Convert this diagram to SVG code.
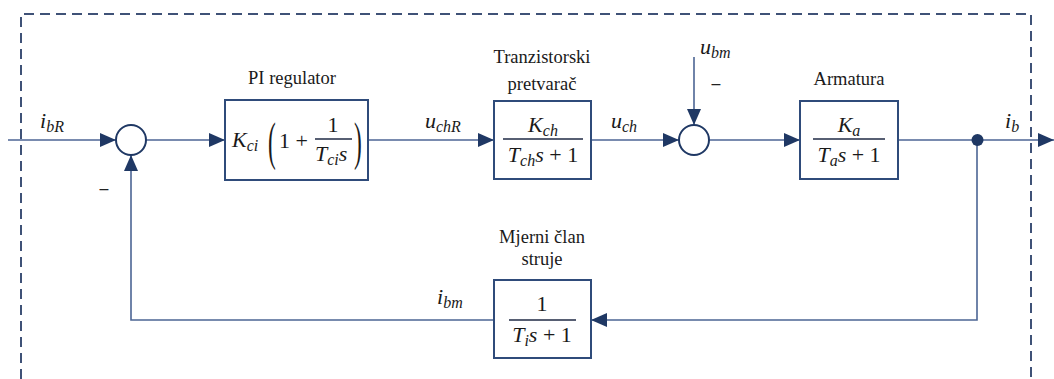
<svg xmlns="http://www.w3.org/2000/svg" width="1054" height="379" viewBox="0 0 1054 379">
<style>
.ln{fill:none;stroke:#4C6594;stroke-width:1.6}
.box{fill:#fff;stroke:#2F4B7A;stroke-width:2}
.sum{fill:#fff;stroke:#1F3864;stroke-width:2}
.frac{stroke:#1F2A44;stroke-width:1.6}
.lbl{font-family:"Liberation Serif",serif;font-size:18.5px;fill:#1a1a1a;text-anchor:middle}
.m{font-family:"Liberation Serif",serif;font-size:22px;fill:#1a1a1a}
.mc{text-anchor:middle}
.it{font-style:italic}
.sub{font-size:16px;font-style:italic}
.minus{font-family:"Liberation Sans",sans-serif;font-size:16px;fill:#222;text-anchor:middle}
.ah{fill:#1F3864}
</style>
<defs>
<marker id="arr" markerWidth="16" markerHeight="14" refX="16" refY="7" orient="auto" markerUnits="userSpaceOnUse">
<path class="ah" d="M0,0 L16,7 L0,14 Z"/>
</marker>
</defs>
<path d="M21,379 V14 H1031 V379" fill="none" stroke="#3F5277" stroke-width="2" stroke-dasharray="10,6"/>
<g id="connectors">
<path class="ln" d="M8,140 H116" marker-end="url(#arr)"/>
<path class="ln" d="M146,140 H225" marker-end="url(#arr)"/>
<path class="ln" d="M368,140 H494" marker-end="url(#arr)"/>
<path class="ln" d="M591,140 H679" marker-end="url(#arr)"/>
<path class="ln" d="M694,57 V125" marker-end="url(#arr)"/>
<path class="ln" d="M709,140 H800" marker-end="url(#arr)"/>
<path class="ln" d="M898,140 H1054" marker-end="url(#arr)"/>
<path class="ln" d="M977,140 V320 H591" marker-end="url(#arr)"/>
<path class="ln" d="M494,320 H131 V155" marker-end="url(#arr)"/>
<circle cx="977.5" cy="140" r="6" fill="#1F3864"/>
<text class="m" x="40" y="128"><tspan class="it">i</tspan><tspan class="sub" dy="4">bR</tspan></text>
<text class="m" x="425" y="128"><tspan class="it">u</tspan><tspan class="sub" dy="4">chR</tspan></text>
<text class="m" x="611" y="128"><tspan class="it">u</tspan><tspan class="sub" dy="4">ch</tspan></text>
<text class="m" x="700" y="54"><tspan class="it">u</tspan><tspan class="sub" dy="4">bm</tspan></text>
<text class="m" x="1005" y="128"><tspan class="it">i</tspan><tspan class="sub" dy="4">b</tspan></text>
<text class="m" x="437" y="304"><tspan class="it">i</tspan><tspan class="sub" dy="4">bm</tspan></text>
<text class="minus" x="104" y="194">–</text>
<text class="minus" x="716" y="89">–</text>
</g>
<g id="sum1"><circle class="sum" cx="131" cy="140" r="15"/></g>
<g id="sum2"><circle class="sum" cx="694" cy="140" r="15"/></g>
<g id="pi">
<text class="lbl" x="292" y="84">PI regulator</text>
<rect class="box" x="225" y="100" width="143" height="80"/>
<text class="m" x="232" y="147"><tspan class="it">K</tspan><tspan class="sub" dy="4">ci</tspan></text>
<text font-family="Liberation Serif" font-size="52" fill="#1a1a1a" transform="translate(268,159) scale(0.45,1)">(</text>
<text class="m" x="279" y="148">1 +</text>
<text class="m mc" x="333" y="132">1</text>
<line class="frac" x1="315" y1="139" x2="352" y2="139"/>
<text class="m" x="315" y="161"><tspan class="it">T</tspan><tspan class="sub" dy="4">ci</tspan><tspan class="it" dy="-4">s</tspan></text>
<text font-family="Liberation Serif" font-size="52" fill="#1a1a1a" transform="translate(354,159) scale(0.45,1)">)</text>
</g>
<g id="conv">
<text class="lbl" x="542" y="63">Tranzistorski</text>
<text class="lbl" x="542" y="90">pretvarač</text>
<rect class="box" x="494" y="101" width="97" height="78"/>
<text class="m mc" x="543" y="132"><tspan class="it">K</tspan><tspan class="sub" dy="4">ch</tspan></text>
<line class="frac" x1="503" y1="139" x2="583" y2="139"/>
<text class="m mc" x="543" y="162"><tspan class="it">T</tspan><tspan class="sub" dy="4">ch</tspan><tspan class="it" dy="-4">s</tspan><tspan> + 1</tspan></text>
</g>
<g id="arm">
<text class="lbl" x="849" y="85">Armatura</text>
<rect class="box" x="800" y="101" width="98" height="78"/>
<text class="m mc" x="849" y="132"><tspan class="it">K</tspan><tspan class="sub" dy="4">a</tspan></text>
<line class="frac" x1="813" y1="139" x2="885" y2="139"/>
<text class="m mc" x="849" y="162"><tspan class="it">T</tspan><tspan class="sub" dy="4">a</tspan><tspan class="it" dy="-4">s</tspan><tspan> + 1</tspan></text>
</g>
<g id="meas">
<text class="lbl" x="542" y="243">Mjerni član</text>
<text class="lbl" x="542" y="265">struje</text>
<rect class="box" x="494" y="280" width="97" height="78"/>
<text class="m mc" x="542" y="311">1</text>
<line class="frac" x1="509" y1="320" x2="576" y2="320"/>
<text class="m mc" x="542" y="342"><tspan class="it">T</tspan><tspan class="sub" dy="4">i</tspan><tspan class="it" dy="-4">s</tspan><tspan> + 1</tspan></text>
</g>
</svg>
